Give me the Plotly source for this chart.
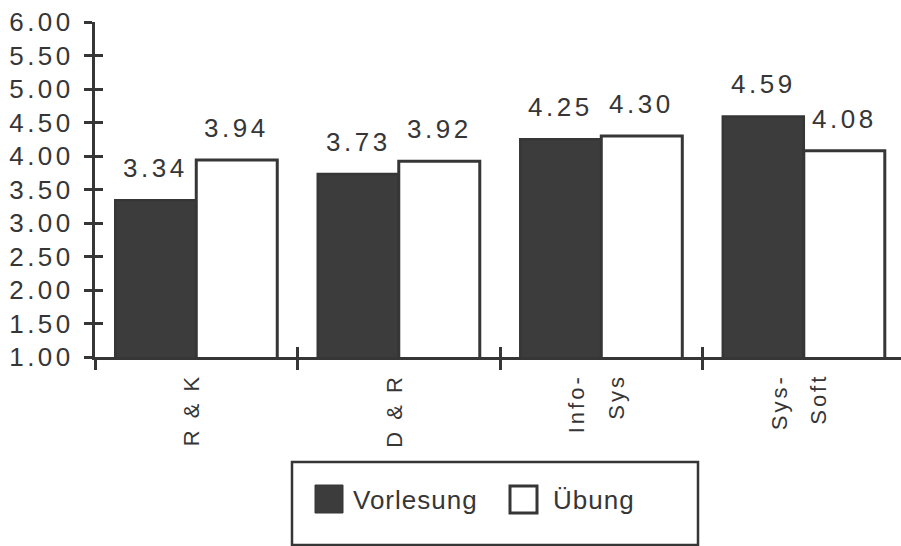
import numpy as np
import plotly.graph_objects as go

# --- data -------------------------------------------------------------
categories = ["R & K", "D & R", "Info-\nSys", "Sys-\nSoft"]
series_names = ["Vorlesung", "Übung"]
vorlesung = [3.34, 3.73, 4.25, 4.59]
uebung = [3.94, 3.92, 4.30, 4.08]
y_ticks = [1.0, 1.5, 2.0, 2.5, 3.0, 3.5, 4.0, 4.5, 5.0, 5.5, 6.0]
y_tick_labels = ["1.00", "1.50", "2.00", "2.50", "3.00", "3.50",
                 "4.00", "4.50", "5.00", "5.50", "6.00"]

# --- styling ----------------------------------------------------------
W, H = 901, 546
ML, MR, MT, MB = 95, 0, 22, 189
INK = "#363636"
DARK = "#3c3c3c"
FONT = "Liberation Sans, Arial, Helvetica, sans-serif"
BARGAP = 0.2


def spaced(text, px):
    return f'<span style="letter-spacing:{px}px">{text}</span>'


def paper_x(p):
    return (p - ML) / (W - ML - MR)


def paper_y(p):
    return (H - MB - p) / (H - MT - MB)


idx = np.arange(len(categories))
boundaries = list(np.arange(len(categories) + 1) - 0.5)
x_range = [-0.5, 3.48]

fig = go.Figure()
fig.add_trace(go.Bar(
    x=idx, y=vorlesung, name=series_names[0],
    marker=dict(color=DARK, line=dict(color=INK, width=2.5)),
    showlegend=False, hoverinfo="skip",
))
fig.add_trace(go.Bar(
    x=idx, y=uebung, name=series_names[1],
    marker=dict(color="white", line=dict(color=INK, width=3)),
    showlegend=False, hoverinfo="skip",
))
# empty helpers so the overlay axes (inner halves of crossing ticks) exist
fig.add_trace(go.Scatter(x=[], y=[], xaxis="x2", yaxis="y", showlegend=False))
fig.add_trace(go.Scatter(x=[], y=[], xaxis="x", yaxis="y2", showlegend=False))

annotations = []
# value labels above each bar
half = (1 - BARGAP) / 4
for values, off in ((vorlesung, -half), (uebung, half)):
    for i, v in zip(idx, values):
        annotations.append(dict(
            x=i + off, y=v, xref="x", yref="y", text=spaced(f"{v:.2f}", 3.5),
            showarrow=False, xanchor="center", yanchor="bottom", yshift=15,
            font=dict(family=FONT, size=26, color=INK),
        ))

# rotated category labels, one annotation per text line
for i, cat in zip(idx, categories):
    lines = cat.split("\n")
    n = len(lines)
    for j, line in enumerate(lines):
        annotations.append(dict(
            x=i, y=0, xref="x", yref="paper", text=spaced(line, 3),
            showarrow=False, textangle=-90, xanchor="center", yanchor="top",
            xshift=(j - (n - 1) / 2) * 39 - 5, yshift=-15,
            font=dict(family=FONT, size=22, color=INK),
        ))

# legend: framed box with two swatches
shapes = [
    dict(type="rect", xref="paper", yref="paper",
         x0=paper_x(292), x1=paper_x(698), y0=paper_y(545), y1=paper_y(462),
         line=dict(color=INK, width=2.5), fillcolor="rgba(0,0,0,0)"),
    dict(type="rect", xref="paper", yref="paper",
         x0=paper_x(315), x1=paper_x(343), y0=paper_y(513), y1=paper_y(485),
         line=dict(color=INK, width=1), fillcolor=DARK),
    dict(type="rect", xref="paper", yref="paper",
         x0=paper_x(510), x1=paper_x(537), y0=paper_y(513), y1=paper_y(486),
         line=dict(color=INK, width=3), fillcolor="white"),
]
for name, x_left in zip(series_names, (351, 551)):
    annotations.append(dict(
        x=paper_x(x_left), y=paper_y(500), xref="paper", yref="paper",
        text=spaced(name, 1), showarrow=False, xanchor="left", yanchor="middle",
        font=dict(family=FONT, size=26, color=INK),
    ))

fig.update_layout(
    width=W, height=H,
    margin=dict(l=ML, r=MR, t=MT, b=MB, pad=0),
    paper_bgcolor="white", plot_bgcolor="white",
    barmode="group", bargap=BARGAP, bargroupgap=0,
    showlegend=False,
    font=dict(family=FONT, color=INK),
    annotations=annotations, shapes=shapes,
    xaxis=dict(
        range=x_range, tickmode="array", tickvals=boundaries,
        showticklabels=False, ticks="outside", ticklen=10, tickwidth=2.5,
        tickcolor=INK, showline=True, linecolor=INK, linewidth=3,
        showgrid=False, zeroline=False, fixedrange=True,
    ),
    xaxis2=dict(
        overlaying="x", anchor="y", side="bottom", range=x_range,
        tickmode="array", tickvals=boundaries, showticklabels=False,
        ticks="inside", ticklen=10, tickwidth=2.5, tickcolor=INK,
        showline=False, showgrid=False, zeroline=False,
    ),
    yaxis=dict(
        range=[1, 6], tickmode="array", tickvals=y_ticks,
        ticktext=[spaced(t, 3.5) for t in y_tick_labels],
        ticks="outside", ticklen=8, tickwidth=2.5, tickcolor=INK,
        ticklabelstandoff=5,
        tickfont=dict(family=FONT, size=26, color=INK),
        showline=True, linecolor=INK, linewidth=3,
        showgrid=False, zeroline=False, fixedrange=True,
    ),
    yaxis2=dict(
        overlaying="y", anchor="x", side="left", range=[1, 6],
        tickmode="array", tickvals=y_ticks, showticklabels=False,
        ticks="inside", ticklen=8, tickwidth=2.5, tickcolor=INK,
        showline=False, showgrid=False, zeroline=False,
    ),
)

fig.write_html("out.html")
